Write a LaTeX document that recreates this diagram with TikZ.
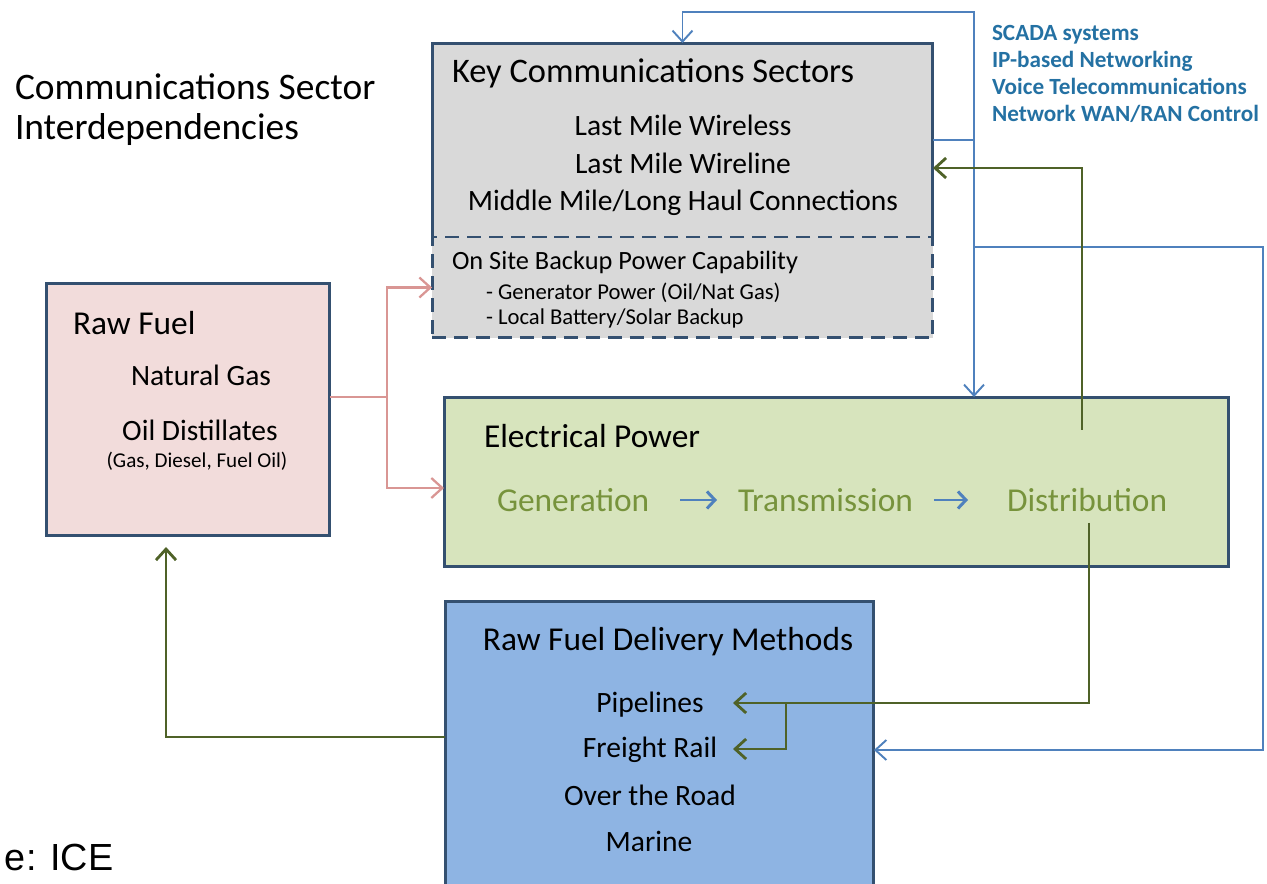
\documentclass[tikz,border=0pt]{standalone}
\usepackage{fontspec}
\setmainfont{Carlito}
\newfontfamily\srcfont{Liberation Sans}
\usetikzlibrary{arrows.meta}

\definecolor{boxedge}{RGB}{52,80,112}
\definecolor{keyfill}{RGB}{217,217,217}
\definecolor{rawfill}{RGB}{242,220,219}
\definecolor{elecfill}{RGB}{215,228,189}
\definecolor{delfill}{RGB}{142,180,227}
\definecolor{bluelink}{RGB}{79,129,189}
\definecolor{greenlink}{RGB}{79,98,40}
\definecolor{pinklink}{RGB}{217,150,148}
\definecolor{chaintext}{RGB}{119,147,60}
\definecolor{scadatext}{RGB}{36,113,163}

\begin{document}
\begin{tikzpicture}
        [x=0.02cm, y=-0.02cm, every node/.style={inner sep=0, outer sep=0},
        edge/.style={draw=boxedge, line width=1.7pt},
        headtext/.style={font=\fontsize{19}{23}\selectfont},
        itemtext/.style={font=\fontsize{16.8}{20}\selectfont},
        smalltext/.style={font=\fontsize{12.9}{15}\selectfont},
        arrowend/.style={-{Straight Barb[length=2.2mm,width=4mm]}},
        blueline/.style={draw=bluelink, line width=1.1pt},
        greenline/.style={draw=greenlink, line width=1.6pt},
        pinkline/.style={draw=pinklink, line width=1.3pt},
        chain/.style={draw=bluelink, line width=1.7pt, -{Straight Barb[length=1.6mm,width=3.4mm]}}]

        \path[use as bounding box] (0,0) rectangle (1267,884);
        \clip (0,0) rectangle (1267,884);

        \node[anchor=west, align=left, font=\fontsize{21.3}{22.8}\selectfont] (title) at (15,110) {Communications Sector\\Interdependencies};
        \node[anchor=west, align=left, text=scadatext, font=\fontsize{13.2}{15.4}\selectfont\bfseries] (scada) at (992,74) {SCADA systems\\IP-based Networking\\Voice Telecommunications\\Network WAN/RAN Control};

        \node[fill=keyfill, minimum width=10.02cm, minimum height=3.88cm] (key) at (682.5,140) {};
        \draw[edge] (key.south west) -- (key.north west) -- (key.north east) -- (key.south east);
        \node[edge, fill=keyfill, dash pattern=on 8pt off 4.5pt, minimum width=10.02cm, minimum height=2.02cm] (backup) at (682.5,287.5) {};
        \node[edge, fill=rawfill, minimum width=5.68cm, minimum height=5.06cm] (raw) at (188,409.5) {};
        \node[edge, fill=elecfill, minimum width=15.7cm, minimum height=3.4cm] (elec) at (836.5,482) {};
        \node[edge, fill=delfill, minimum width=8.58cm, minimum height=6cm] (deliv) at (659.5,751) {};

        \node[anchor=west, font=\fontsize{19.6}{23}\selectfont] (keyhead) at (452,73) {Key Communications Sectors};
        \node[itemtext] (wireless) at (683,125) {Last Mile Wireless};
        \node[itemtext] (wireline) at (683,163) {Last Mile Wireline};
        \node[itemtext] (midmile) at (683,203) {Middle Mile/Long Haul Connections};

        \node[anchor=west, font=\fontsize{15}{18}\selectfont] (backhead) at (452,262) {On Site Backup Power Capability};
        \node[smalltext, anchor=west] (genpow) at (486,293) {- Generator Power (Oil/Nat Gas)};
        \node[smalltext, anchor=west] (battery) at (486,318) {- Local Battery/Solar Backup};

        \node[headtext, anchor=west] (rawhead) at (73,323) {Raw Fuel};
        \node[itemtext] (natgas) at (201,375) {Natural Gas};
        \node[itemtext] (oildist) at (200,430) {Oil Distillates};
        \node[font=\fontsize{12}{14}\selectfont] (oilkinds) at (197,461) {(Gas, Diesel, Fuel Oil)};

        \node[headtext, anchor=west] (elechead) at (484,436) {Electrical Power};
        \node[headtext, anchor=west, text=chaintext] (gen) at (497,500) {Generation};
        \node[headtext, anchor=west, text=chaintext] (trans) at (738,500) {Transmission};
        \node[headtext, anchor=west, text=chaintext] (dist) at (1007,500) {Distribution};

        \node[headtext] (delhead) at (668,642) {Raw Fuel Delivery Methods};
        \node[itemtext] (pipe) at (650,705) {Pipelines};
        \node[itemtext] (rail) at (650,750) {Freight Rail};
        \node[itemtext] (road) at (650,795) {Over the Road};
        \node[itemtext] (marine) at (649,841) {Marine};

        \node[anchor=base west, font=\srcfont\fontsize{21.5}{24}\selectfont] (source) at (5,870) {e: ICE};

        \coordinate (bj) at (974,140);
        \coordinate (btop) at (974,12);
        \coordinate (bsplit) at (974,247);
        \coordinate (bright) at (1263,247);
        \coordinate (gup) at (1082,430);
        \coordinate (gtop) at (1082,168);
        \coordinate (gdown) at (1089,523);
        \coordinate (gsplit) at (786,703);
        \coordinate (pipetip) at (733,703);
        \coordinate (railtip) at (733,749);
        \coordinate (gleft) at (166,737);
        \coordinate (rawtip) at (166,547);
        \coordinate (pj) at (387,397);
        \coordinate (electip) at (444,488);

        \draw[chain, shorten <=0.62cm, shorten >=0.42cm] (gen) -- (trans);
        \draw[chain, shorten <=0.42cm, shorten >=0.78cm] (trans) -- (dist);

        \draw[blueline, arrowend] (key.east) -- (bj) -- (btop) -| (key.north);
        \draw[blueline, arrowend] (bj) -- (bj |- elec.north);
        \draw[blueline, arrowend] (bsplit) -- (bright) |- (deliv.east |- rail);
        \draw[greenline, arrowend] (gup) -- (gtop) -- (gtop -| key.east);
        \draw[greenline, arrowend] (gdown) |- (pipetip);
        \draw[greenline, arrowend] (gsplit) |- (railtip);
        \draw[greenline, arrowend] (deliv.west |- gleft) -- (gleft) -- (rawtip);
        \draw[pinkline] (raw.east |- pj) -- (pj);
        \draw[pinkline, arrowend] (pj) |- (backup.west);
        \draw[pinkline, arrowend] (pj) |- (electip);
      \end{tikzpicture}
\end{document}
